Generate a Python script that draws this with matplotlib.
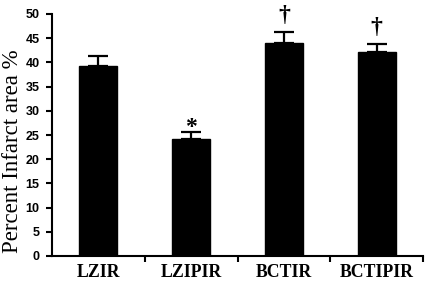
import matplotlib
matplotlib.use("Agg")
import matplotlib.pyplot as plt
import numpy as np

categories = ["LZIR", "LZIPIR", "BCTIR", "BCTIPIR"]
values = [39.3, 24.2, 44.1, 42.2]
errors = [2.0, 1.4, 2.2, 1.5]
marks = ["", "*", "\u2020", "\u2020"]
yticks = [0, 5, 10, 15, 20, 25, 30, 35, 40, 45, 50]

fig = plt.figure(figsize=(4.25, 2.81), dpi=100)
ax = fig.add_axes([52/425, 1-256/281, (423-52)/425, (256-14)/281])

x = np.arange(len(categories))
ax.bar(x, values, width=0.41, color="black", edgecolor="black", zorder=2)
ax.errorbar(x, values, yerr=[np.zeros(len(errors)), errors], fmt="none",
            ecolor="black", elinewidth=1.6, capsize=7, capthick=1.6, zorder=3)

for xi, v, e, m in zip(x, values, errors, marks):
    if m == "*":
        ax.annotate(m, (xi, v + e), xytext=(0, -1), textcoords="offset pixels",
                    ha="center", va="baseline", fontsize=17, fontweight="bold",
                    family="Liberation Serif")
    elif m:
        ax.annotate(m, (xi, v + e), xytext=(0, 11), textcoords="offset pixels",
                    ha="center", va="baseline", fontsize=17, fontweight="bold",
                    family="Liberation Serif")

ax.set_xlim(-0.5, 3.5)
ax.set_ylim(0, 50)
ax.set_yticks(yticks)
ax.set_yticklabels([str(t) for t in yticks], fontsize=9, fontweight="bold",
                   family="Liberation Sans")
ax.set_xticks(x)
ax.set_xticklabels(categories, fontsize=12.8, fontweight="bold", family="Liberation Serif")
ax.tick_params(axis="x", length=0, pad=6)
ax.set_xticks(np.arange(len(categories)) + 0.5, minor=True)
ax.tick_params(axis="x", which="minor", length=4, width=1.5, direction="out")
ax.tick_params(axis="y", length=4, width=1.5, direction="out", pad=5)

for s in ["top", "right"]:
    ax.spines[s].set_visible(False)
for s in ["left", "bottom"]:
    ax.spines[s].set_linewidth(1.5)

ax.set_ylabel("Percent Infarct area %", fontsize=16.5, family="Liberation Serif")
ax.yaxis.set_label_coords(-0.077, 0.435)

fig.savefig("out.png", dpi=100)
